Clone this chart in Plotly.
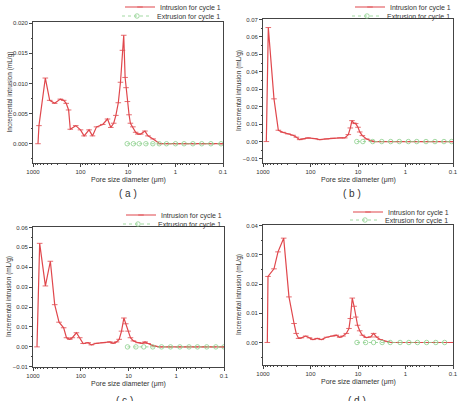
import plotly.graph_objects as go

# ---------------- data ----------------
tail_x = [1.4, 0.9, 0.6, 0.4, 0.26, 0.17, 0.11, 0.1]
tail_y = [0, 0, 0, 0, 0, 0, 0, 0]

a_intr_x = [785, 749, 550, 445, 350, 266, 226, 200, 178, 164, 126, 100, 84, 66, 56, 46, 34, 27, 23, 20, 18, 16,
            14.4, 13.1, 12.3, 11.5, 11, 10.3, 9.5, 8.9, 7.9, 6.9, 6.2, 5.4, 4.4, 3.8, 2.96, 2.14] + tail_x
a_intr_y = [0, 0.003, 0.0109, 0.0072, 0.0067, 0.0074, 0.0072, 0.0067, 0.0056, 0.0024, 0.003, 0.0023, 0.0013,
            0.0023, 0.0013, 0.0028, 0.0032, 0.0041, 0.0027, 0.0034, 0.0047, 0.0068, 0.0102, 0.0155, 0.018,
            0.011, 0.0093, 0.007, 0.0048, 0.0034, 0.0028, 0.0019, 0.0016, 0.0016, 0.0021, 0.0013, 0.0008, 0] + tail_y
a_extr_x = [10.4, 7.7, 5.8, 4.2, 3.0, 2.2, 1.55, 1.0, 0.66, 0.43, 0.28, 0.18, 0.11]
a_extr_y = [0] * 13

b_intr_x = [851, 773, 587, 475, 380, 298, 233, 198, 169, 144, 113, 81, 64, 46, 34, 24, 19, 16, 14.5, 13.4,
            12.3, 11.2, 10, 9.2, 8.1, 6.6, 5.2, 4.8] + tail_x
b_intr_y = [0, 0.0654, 0.0245, 0.0065, 0.0053, 0.0044, 0.0036, 0.0025, 0.0011, 0.0015, 0.0021, 0.0017, 0.0011,
            0.0015, 0.0019, 0.0021, 0.0021, 0.004, 0.0078, 0.012, 0.0106, 0.0103, 0.0082, 0.0055, 0.0034,
            0.0015, 0.0004, 0] + tail_y
b_extr_x = [10.6, 7.9, 4.9, 3.16, 2.05, 1.35, 0.87, 0.58, 0.37, 0.24, 0.155, 0.107]
b_extr_y = [0] * 12

c_intr_x = [825, 725, 550, 433, 351, 285, 228, 199, 170, 150, 123, 105, 89, 70, 60, 47, 34, 24.5, 21, 17.8,
            15.7, 14, 12.5, 11.4, 10.2, 9.1, 7.9, 6.3, 5.1, 4.5, 3.9, 3.0, 2.2] + tail_x
c_intr_y = [0, 0.052, 0.0306, 0.043, 0.0212, 0.0124, 0.0096, 0.0046, 0.0038, 0.0046, 0.0071, 0.0046, 0.0017,
            0.0021, 0.001, 0.0018, 0.0021, 0.0025, 0.0018, 0.0025, 0.0038, 0.0079, 0.0145, 0.0116, 0.0079,
            0.0046, 0.003, 0.0021, 0.0018, 0.0025, 0.0017, 0.0005, 0] + tail_y
c_extr_x = [10.5, 7.0, 4.8, 3.1, 2.03, 1.32, 0.84, 0.54, 0.36, 0.23, 0.148, 0.1]
c_extr_y = [0] * 12

d_intr_x = [811, 785, 587, 483, 367, 284, 222, 200, 178, 156, 126, 105, 89, 72, 59, 46, 34, 28.6, 24.3, 20.7,
            17.6, 15.5, 14.5, 13.2, 12.1, 11.2, 10.2, 9.2, 8.1, 6.7, 5.4, 4.7, 4.1, 3.4, 2.5, 2.0] + tail_x
d_intr_y = [0, 0.0226, 0.0252, 0.031, 0.0357, 0.0156, 0.0065, 0.0031, 0.0014, 0.0016, 0.0022, 0.0016, 0.001,
            0.0014, 0.001, 0.0018, 0.0022, 0.0025, 0.0018, 0.0022, 0.0031, 0.0048, 0.0082, 0.0152, 0.0124,
            0.0087, 0.0059, 0.004, 0.0025, 0.0017, 0.0019, 0.0031, 0.0019, 0.001, 0.0003, 0] + tail_y
d_extr_x = [10.5, 6.9, 4.7, 3.1, 2.1, 1.3, 0.85, 0.56, 0.36, 0.23, 0.15]
d_extr_y = [0] * 11

x_tickvals = [1000, 100, 10, 1, 0.1]
x_ticktext = ["1000", "100", "10", "1", "0.1"]

panels = [
    dict(name="a", ix=a_intr_x, iy=a_intr_y, ex=a_extr_x, ey=a_extr_y,
         yr=[-0.0032, 0.0202], yt=[0, 0.005, 0.010, 0.015, 0.020], fmt=".3f", ydt=0.0025),
    dict(name="b", ix=b_intr_x, iy=b_intr_y, ex=b_extr_x, ey=b_extr_y,
         yr=[-0.0123, 0.0703], yt=[-0.01, 0, 0.01, 0.02, 0.03, 0.04, 0.05, 0.06, 0.07], fmt=".2f", ydt=0.005),
    dict(name="c", ix=c_intr_x, iy=c_intr_y, ex=c_extr_x, ey=c_extr_y,
         yr=[-0.0101, 0.0602], yt=[-0.01, 0, 0.01, 0.02, 0.03, 0.04, 0.05, 0.06], fmt=".2f", ydt=0.005),
    dict(name="d", ix=d_intr_x, iy=d_intr_y, ex=d_extr_x, ey=d_extr_y,
         yr=[-0.0077, 0.0402], yt=[0, 0.01, 0.02, 0.03, 0.04], fmt=".2f", ydt=0.005),
]

# ---------------- layout geometry (pixels) ----------------
W, H = 460, 401
boxes = [  # left, right, top, bottom in px
    (33, 223, 22, 163),
    (263, 453, 19, 163),
    (33, 224, 227, 367),
    (263, 453, 225, 365),
]
# legend: right edge of text, centre y of first and second entry
legend_pos = [(220, 7, 16), (450, 7, 16), (221, 215, 224), (448, 212, 220)]
label_pos = [(128, 186), (352, 186), (124, 393), (357, 393)]

FONT = "Liberation Sans, Arial, sans-serif"
RED = "#e0474c"
GREEN = "#8ccf8c"
AX = "#444444"

minor_vals = []
for dec in [0.1, 1, 10, 100]:
    for k in range(2, 10):
        minor_vals.append(dec * k)

fig = go.Figure()
layout = dict(width=W, height=H, margin=dict(l=0, r=0, t=0, b=0, autoexpand=False), autosize=False,
              paper_bgcolor="white", plot_bgcolor="white", font=dict(family=FONT, color="#333"),
              showlegend=True)
annotations = []

for i, p in enumerate(panels):
    n = "" if i == 0 else str(i + 1)
    xa, ya = "x" + n, "y" + n
    leg1 = "legend" if i == 0 else "legend%d" % (2 * i + 1)
    leg2 = "legend%d" % (2 * i + 2)
    l, r, t, b = boxes[i]
    fig.add_trace(go.Scatter(x=p["ix"], y=p["iy"], xaxis=xa, yaxis=ya, mode="lines+markers",
                             name="Intrusion for cycle 1", legend=leg1,
                             line=dict(color=RED, width=1.2),
                             marker=dict(symbol="line-ew", size=4, color=RED, line=dict(color=RED, width=0.8))))
    fig.add_trace(go.Scatter(x=p["ex"], y=p["ey"], xaxis=xa, yaxis=ya, mode="lines+markers",
                             name="Extrusion for cycle 1", legend=leg2,
                             line=dict(color=GREEN, width=0.8, dash="dot"),
                             marker=dict(symbol="circle-open", size=4.5, color=GREEN, line=dict(color=GREEN, width=0.8))))
    axkey = "xaxis" + n
    aykey = "yaxis" + n
    layout[axkey] = dict(domain=[l / W, r / W], anchor=ya, type="log", range=[3, -1],
                         tickvals=x_tickvals, ticktext=x_ticktext, ticks="outside", ticklen=3,
                         tickwidth=0.8, tickcolor=AX, showline=True, linecolor=AX, linewidth=0.8,
                         mirror=True, showgrid=False, zeroline=False,
                         tickfont=dict(size=6, color="#333"),
                         minor=dict(tickvals=minor_vals, ticks="outside", ticklen=1.5,
                                    tickcolor=AX, tickwidth=0.6, showgrid=False))
    layout[aykey] = dict(domain=[1 - b / H, 1 - t / H], anchor=xa, range=p["yr"],
                         tickvals=p["yt"], tickformat=p["fmt"], ticks="outside", ticklen=3,
                         tickwidth=0.8, tickcolor=AX, showline=True, linecolor=AX, linewidth=0.8,
                         mirror=True, showgrid=False, zeroline=False,
                         tickfont=dict(size=6, color="#333"),
                         minor=dict(dtick=p["ydt"], ticks="outside", ticklen=1.5,
                                    tickcolor=AX, tickwidth=0.6, showgrid=False))
    lx, ly1, ly2 = legend_pos[i]
    for leg, ly in ((leg1, ly1), (leg2, ly2)):
        layout[leg] = dict(x=(lx + 6) / W, y=1 - ly / H, xanchor="right", yanchor="middle",
                           bgcolor="rgba(0,0,0,0)", font=dict(size=7, color="#333"),
                           itemwidth=30, tracegroupgap=0)
    # axis titles
    annotations.append(dict(text="Pore size diameter (\u03bcm)", xref="paper", yref="paper",
                            x=(l + r) / 2 / W, y=1 - (b + 17) / H, xanchor="center", yanchor="middle",
                            showarrow=False, font=dict(size=7, color="#333")))
    annotations.append(dict(text="Incremental intrusion (mL/g)", xref="paper", yref="paper",
                            x=(l - 24) / W, y=1 - (t + b) / 2 / H, xanchor="center", yanchor="middle",
                            textangle=-90, showarrow=False, font=dict(size=6.5, color="#333")))
    sx, sy = label_pos[i]
    annotations.append(dict(text="( %s )" % p["name"], xref="paper", yref="paper",
                            x=sx / W, y=1 - sy / H, xanchor="center", yanchor="top",
                            showarrow=False, font=dict(size=10, color="#333")))

layout["annotations"] = annotations
fig.update_layout(**layout)
fig.write_html("out.html")
